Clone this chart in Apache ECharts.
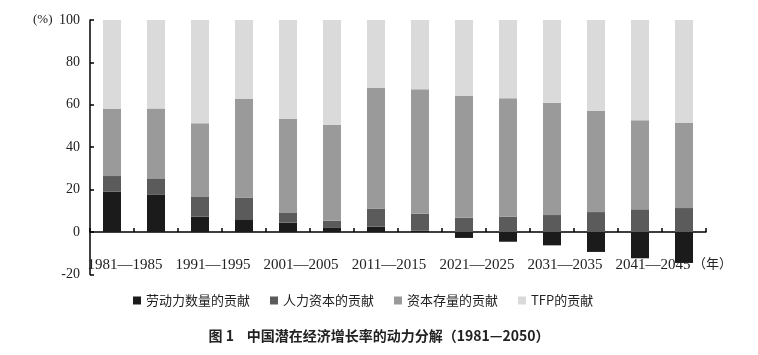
<!DOCTYPE html>
<html><head><meta charset="utf-8">
<script src="https://cdn.jsdelivr.net/npm/echarts@6/dist/echarts.min.js"></script>
<style>html,body{margin:0;padding:0;background:#fff}#c{width:758px;height:355px}</style>
</head><body><div id="c"></div>
<script>
const categories = ['1981—1985','1986—1990','1991—1995','1996—2000','2001—2005','2006—2010','2011—2015','2016—2020','2021—2025','2026—2030','2031—2035','2036—2040','2041—2045','2046—2050'];
const labor   = [19.0, 17.5, 7.2, 6.0, 4.4, 2.2, 2.5, 0.6, -2.8, -4.6, -6.3, -9.4, -12.4, -14.6];
const human   = [7.4, 7.8, 9.3, 10.2, 4.6, 3.1, 8.5, 8.0, 6.7, 7.2, 8.0, 9.4, 10.7, 11.3];
const capital = [31.6, 32.9, 34.8, 46.5, 44.3, 45.2, 56.9, 58.7, 57.6, 55.9, 53.0, 47.7, 42.0, 40.1];
const tfp     = [42.0, 41.8, 48.7, 37.3, 46.7, 49.5, 32.1, 32.7, 35.7, 36.9, 39.0, 42.9, 47.3, 48.6];
const seriesNames = ['劳动力数量的贡献','人力资本的贡献','资本存量的贡献','TFP的贡献'];
const yTicks = [-20, 0, 20, 40, 60, 80, 100];

const colors = ['#1b1b1b','#5b5b5b','#9a9a9a','#dadada'];
const serif = '"Liberation Serif","DejaVu Serif",serif';
const cjk = '"Noto Sans CJK SC",sans-serif';
const chart = echarts.init(document.getElementById('c'));
const datasets = [labor, human, capital, tfp];
chart.setOption({
  animation: false,
  color: colors,
  grid: {left: 90, right: 52, top: 20, bottom: 80.6, containLabel: false},
  legend: {
    data: seriesNames, left: 128, top: 289, itemWidth: 8, itemHeight: 8, itemGap: 20,
    icon: 'rect', textStyle: {fontFamily: cjk, fontSize: 13, color: '#222'}
  },
  title: {
    text: '图 1    中国潜在经济增长率的动力分解（1981—2050）',
    left: 'center', top: 324,
    textStyle: {fontFamily: cjk, fontSize: 14, fontWeight: 'bold', color: '#222'}
  },
  xAxis: {
    type: 'category', data: categories,
    axisLine: {onZero: true, lineStyle: {color: '#000', width: 1.5}},
    axisTick: {show: true, inside: true, length: 4, interval: 0, lineStyle: {color: '#000', width: 1.5}},
    axisLabel: {interval: 1, margin: -17, padding: [0,0,0,26], fontFamily: serif, fontSize: 15, color: '#222'}
  },
  yAxis: {
    type: 'value', min: yTicks[0], max: yTicks[yTicks.length-1], interval: 20,
    splitLine: {show: false},
    axisLine: {show: true, lineStyle: {color: '#000', width: 1.5}},
    axisTick: {show: true, inside: true, length: 4, lineStyle: {color: '#000', width: 1.5}},
    axisLabel: {fontFamily: serif, fontSize: 14, color: '#222', margin: 10}
  },
  graphic: [
    {type: 'text', left: 33, top: 13, style: {text: '(%)', font: '13px ' + serif, fill: '#222'}},
    {type: 'text', left: 693, top: 257, style: {text: '（年）', font: '13px ' + cjk, fill: '#222'}}
  ],
  series: datasets.map((d, i) => ({
    name: seriesNames[i], type: 'bar', stack: 'total', barWidth: 18, data: d,
    itemStyle: {color: colors[i]}
  }))
});
</script></body></html>
